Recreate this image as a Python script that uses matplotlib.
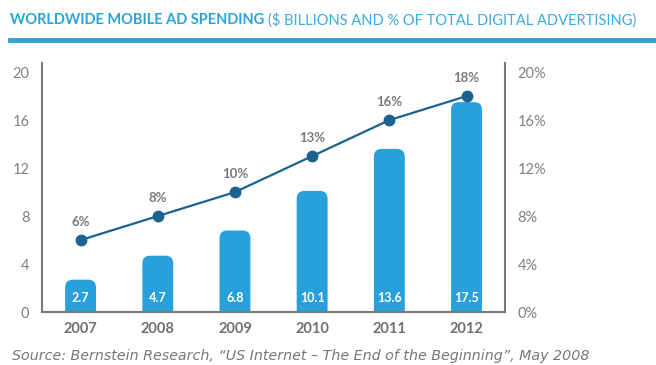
import matplotlib.pyplot as plt
from matplotlib.patches import FancyBboxPatch
import numpy as np

years = ["2007", "2008", "2009", "2010", "2011", "2012"]
spend = [2.7, 4.7, 6.8, 10.1, 13.6, 17.5]       # $ billions
share = [6, 8, 10, 13, 16, 18]                  # % of total digital advertising

bar_color = "#27a0db"
line_color = "#1a628f"
grey = "#707070"
plt.rcParams["font.family"] = ["Lato", "DejaVu Sans"]

fig = plt.figure(figsize=(6.56, 3.65), dpi=100)
ax = fig.add_axes([0.064, 0.145, 0.706, 0.682])
x = np.arange(len(years))
ax.set_xlim(-0.5, 5.5)
ax.set_ylim(0, 20.75)

# bars with rounded tops; the box starts below zero so the axes clip the lower corners
w = 0.4
r = 0.1
aspect = 6.4
for xi, v in zip(x, spend):
    ax.add_patch(FancyBboxPatch((xi - w / 2, -2), w, v + 2,
                                boxstyle=f"round,pad=0,rounding_size={r}",
                                mutation_aspect=aspect, fc=bar_color, ec="none"))
    ax.text(xi, 1.2, f"{v:.1f}", ha="center", va="center", color="white",
            fontsize=9, fontweight="bold")

ax.set_yticks([0, 4, 8, 12, 16, 20])
ax.set_xticks(x)
ax.set_xticklabels(years, fontsize=10.5, fontweight="bold", color=grey)
ax.tick_params(axis="x", length=0, pad=7)
ax.tick_params(axis="y", length=0, pad=9, labelsize=10.5, labelcolor="#808080")
for s in ["left", "bottom"]:
    ax.spines[s].set_color("#7a7a7a")
    ax.spines[s].set_linewidth(1.5)
ax.spines["top"].set_visible(False)
ax.spines["right"].set_visible(False)

ax2 = ax.twinx()
ax2.set_ylim(0, 20.75)
ax2.plot(x, share, color=line_color, lw=1.6, marker="o", ms=7.5,
         mfc=line_color, mec=line_color, zorder=3)
for xi, p in zip(x, share):
    ax2.text(xi, p + 1.0, f"{p}%", ha="center", va="bottom", fontsize=9.5,
             fontweight="bold", color="#7a7a7a")
ax2.set_yticks([0, 4, 8, 12, 16, 20])
ax2.set_yticklabels([f"{t}%" for t in [0, 4, 8, 12, 16, 20]])
ax2.tick_params(axis="y", length=0, pad=9, labelsize=10.5, labelcolor="#808080")
ax2.spines["right"].set_color("#7a7a7a")
ax2.spines["right"].set_linewidth(1.5)
for s in ["top", "left", "bottom"]:
    ax2.spines[s].set_visible(False)

# header
head = fig.text(0.015, 0.945, "WORLDWIDE MOBILE AD SPENDING", fontsize=10.5,
                fontweight="bold", color="#2aa3d6", va="center")
fig.canvas.draw()
hb = head.get_window_extent()
fig.text(hb.x1 / fig.bbox.width + 0.006, 0.945,
         "($ BILLIONS AND % OF TOTAL DIGITAL ADVERTISING)",
         fontsize=10.5, color="#3aabde", va="center")
fig.add_artist(plt.Line2D([0.015, 1.0], [0.89, 0.89], color="#2ea3d8", lw=3.5))

fig.text(0.018, 0.025, "Source: Bernstein Research, \u201cUS Internet \u2013 The End of the Beginning\u201d, May 2008",
         fontsize=10.3, style="italic", color="#777777", va="center",
         family=["DejaVu Sans"])

fig.savefig("out.png", dpi=100)
